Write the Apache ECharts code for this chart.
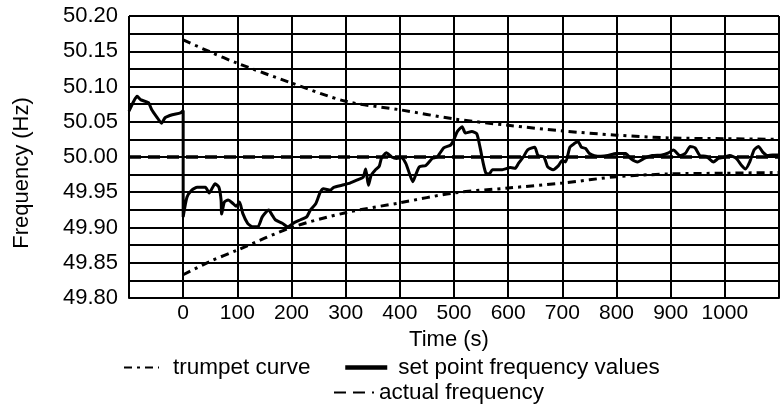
<!DOCTYPE html>
<html>
<head>
<meta charset="utf-8">
<script src="https://cdn.jsdelivr.net/npm/echarts@6/dist/echarts.min.js"></script>
<style>html,body{margin:0;padding:0;background:#fff;}#c{width:782px;height:405px;}</style>
</head>
<body>
<div id="c"></div>
<script>
// ---- data ----
const xTicks = [0, 100, 200, 300, 400, 500, 600, 700, 800, 900, 1000];
const yTicks = ['49.80', '49.85', '49.90', '49.95', '50.00', '50.05', '50.10', '50.15', '50.20'];

const measuredTime = [-100,-92,-85,-78,-64,-58,-49,-40,-33,-20,-5,0,0,7,16,26,41,48,53,59,66,70,71,76,83,92,98,104,110,119,128,138,146,158,164,170,183,193,205,217,228,235,245,253,259,272,278,293,308,323,332,337,342,347,354,362,366,375,385,394,403,411,418,424,430,436,448,460,469,481,494,500,506,515,521,533,542,548,554,559,565,571,589,604,613,619,628,636,649,655,666,673,683,692,700,706,714,722,729,735,743,750,759,771,784,799,817,826,839,851,866,884,896,905,917,927,936,945,954,966,979,988,1000,1009,1021,1031,1038,1046,1054,1062,1070,1079,1088,1100];
const measuredFreq = [50.065,50.078,50.086,50.081,50.077,50.067,50.057,50.048,50.056,50.060,50.0625,50.066,49.915,49.943,49.953,49.957,49.957,49.949,49.955,49.962,49.957,49.939,49.919,49.936,49.939,49.934,49.930,49.936,49.920,49.906,49.901,49.901,49.915,49.925,49.918,49.911,49.906,49.901,49.907,49.911,49.915,49.925,49.934,49.950,49.955,49.953,49.957,49.960,49.963,49.968,49.971,49.983,49.960,49.974,49.981,49.987,49.998,50.006,50.000,49.998,49.999,49.991,49.976,49.965,49.976,49.986,49.988,49.998,50.000,50.013,50.017,50.025,50.036,50.043,50.034,50.036,50.033,50.014,49.991,49.977,49.976,49.982,49.982,49.985,49.984,49.991,50.000,50.010,50.014,50.002,50.000,49.986,49.982,49.987,49.995,49.993,50.014,50.019,50.022,50.014,50.012,50.005,50.002,50.001,50.002,50.005,50.005,49.998,49.993,49.998,50.002,50.003,50.006,50.010,50.002,50.005,50.015,50.013,50.002,50.001,49.993,49.998,50.000,50.002,49.998,49.988,49.983,49.993,50.010,50.015,50.007,50.002,50.003,50.003];

const trumpetTime  = [0, 50, 100, 200, 300, 400, 500, 600, 700, 800, 900, 1000, 1100];
const trumpetUpper = [50.166, 50.149, 50.133, 50.105, 50.079, 50.067, 50.054, 50.045, 50.037, 50.031, 50.027, 50.026, 50.025];
const trumpetLower = [49.833, 49.852, 49.868, 49.900, 49.921, 49.935, 49.949, 49.956, 49.963, 49.972, 49.976, 49.977, 49.978];

const nominalTime = [-100, 1100];
const nominalFreq = [50.00, 50.00];

const seriesNames = ['trumpet curve', 'set point frequency values', 'actual frequency'];

// ---- chart ----
const zip = (a, b) => a.map((v, i) => [v, b[i]]);
const FONT = 'Liberation Sans';
const chart = echarts.init(document.getElementById('c'), null, {renderer: 'canvas'});
const legendBase = {padding: 0, itemHeight: 14, itemStyle: {opacity: 0}};
chart.setOption({
  animation: false,
  backgroundColor: '#fff',
  textStyle: {fontFamily: FONT, color: '#000'},
  grid: {left: 129, top: 16, right: -6, bottom: 107, containLabel: false},
  xAxis: {
    type: 'value', min: -100, max: 1100, interval: 100,
    axisLine: {show: true, lineStyle: {color: '#000', width: 2}},
    axisTick: {show: false},
    splitLine: {show: true, lineStyle: {color: '#000', width: 2}},
    axisLabel: {
      color: '#000', fontFamily: FONT, fontSize: 21, margin: 5,
      formatter: v => xTicks.indexOf(v) >= 0 ? String(v) : ''
    },
    name: 'Time (s)', nameLocation: 'middle', nameGap: 29,
    nameTextStyle: {color: '#000', fontFamily: FONT, fontSize: 22, padding: [0, 10, 0, 0]}
  },
  yAxis: {
    type: 'value', min: 49.8, max: 50.2, interval: 0.025,
    axisLine: {show: true, lineStyle: {color: '#000', width: 2}},
    axisTick: {show: false},
    splitLine: {show: true, lineStyle: {color: '#000', width: 2}},
    axisLabel: {
      color: '#000', fontFamily: FONT, fontSize: 22, margin: 11,
      formatter: v => { const s = v.toFixed(2); return (yTicks.indexOf(s) >= 0 && Math.abs(v * 20 - Math.round(v * 20)) < 1e-6) ? s : ''; }
    },
    name: 'Frequency (Hz)', nameLocation: 'middle', nameGap: 96, nameRotate: 90,
    nameTextStyle: {color: '#000', fontFamily: FONT, fontSize: 22, padding: [0, 32, 0, 0]}
  },
  legend: [
    Object.assign({data: [seriesNames[0]], left: 123, top: 356, itemWidth: 35,
     textStyle: {fontFamily: FONT, fontSize: 22.5, color: '#000', padding: [0, 0, 0, 9]}}, legendBase),
    Object.assign({data: [seriesNames[1]], left: 343, top: 356, itemWidth: 42,
     lineStyle: {width: 4.5, type: 'solid'},
     textStyle: {fontFamily: FONT, fontSize: 22.5, color: '#000', padding: [0, 0, 0, 6]}}, legendBase),
    Object.assign({data: [seriesNames[2]], left: 333, top: 381, itemWidth: 40,
     textStyle: {fontFamily: FONT, fontSize: 22.5, color: '#000', padding: [0, 0, 0, 0]}}, legendBase)
  ],
  series: [
    {name: seriesNames[0], type: 'line', data: zip(trumpetTime, trumpetUpper), smooth: 0.3, symbol: 'none',
     lineStyle: {color: '#000', width: 3, type: [8, 5, 3, 5]}, itemStyle: {color: '#000'}},
    {name: seriesNames[0], type: 'line', data: zip(trumpetTime, trumpetLower), smooth: 0.3, symbol: 'none',
     lineStyle: {color: '#000', width: 3, type: [8, 5, 3, 5]}, itemStyle: {color: '#000'}},
    {name: seriesNames[2], type: 'line', data: zip(nominalTime, nominalFreq), symbol: 'none',
     lineStyle: {color: '#000', width: 3.5, type: [12, 7]}, itemStyle: {color: '#000'}},
    {name: seriesNames[1], type: 'line', data: zip(measuredTime, measuredFreq), smooth: 0.2, symbol: 'none',
     lineStyle: {color: '#000', width: 3}, itemStyle: {color: '#000'}}
  ]
});
</script>
</body>
</html>
